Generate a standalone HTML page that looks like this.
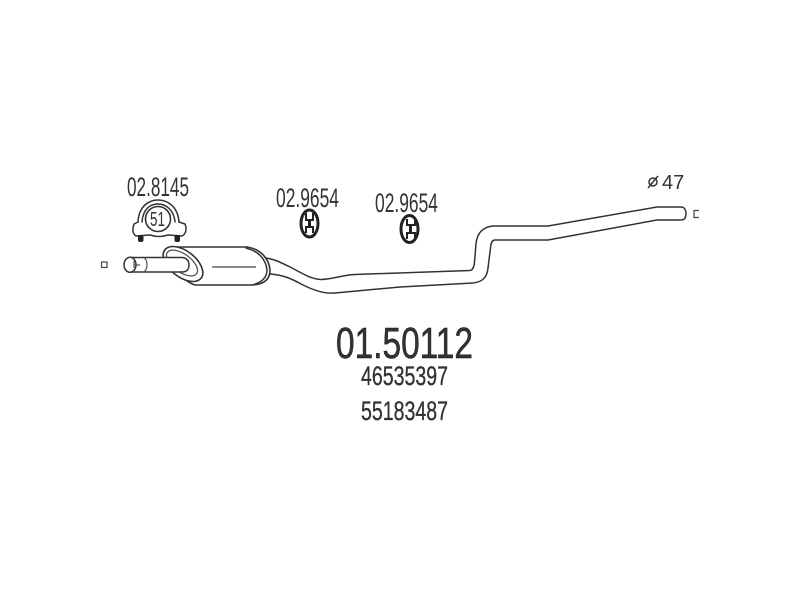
<!DOCTYPE html>
<html><head><meta charset="utf-8"><style>
html,body{margin:0;padding:0;background:#fff;width:800px;height:600px;overflow:hidden}
svg{display:block}
text{font-family:"Liberation Sans",sans-serif;fill:#333}
.l{fill:none;stroke:#333;stroke-width:1.500;stroke-linecap:round;stroke-linejoin:round}
</style></head><body>
<svg width="800" height="600" viewBox="0 0 800 600" xmlns="http://www.w3.org/2000/svg">
<rect width="800" height="600" fill="#fff"/>
<text x="127" y="196" font-size="27" textLength="62" lengthAdjust="spacingAndGlyphs" fill="#444">02.8145</text>
<text x="276" y="207" font-size="27" textLength="63" lengthAdjust="spacingAndGlyphs" fill="#444">02.9654</text>
<text x="375" y="212" font-size="27" textLength="63" lengthAdjust="spacingAndGlyphs" fill="#444">02.9654</text>
<text x="662" y="189" font-size="20" fill="#333">47</text>
<g fill="none" stroke="#333" stroke-width="1.500"><circle cx="653" cy="182" r="4"/><path d="M648 188L658 176"/></g>
<text x="336" y="358" font-size="44" textLength="137" lengthAdjust="spacingAndGlyphs" fill="#111" stroke="#111" stroke-width="0.500">01.50112</text>
<text x="361" y="385" font-size="27" textLength="87" lengthAdjust="spacingAndGlyphs" fill="#222" stroke="#222" stroke-width="0.300">46535397</text>
<text x="361" y="420" font-size="27" textLength="87" lengthAdjust="spacingAndGlyphs" fill="#222" stroke="#222" stroke-width="0.300">55183487</text>

<!-- small squares -->
<rect x="101.500" y="262" width="5.500" height="5.500" fill="none" stroke="#444" stroke-width="1.200"/>
<path d="M699 210.500H694V217.500H699" fill="none" stroke="#444" stroke-width="1.200"/>

<!-- clamp -->
<path class="l" d="M138 222C139 205 150 200 158 200C168 200 178 207 179 222"/>
<path class="l" d="M142 222C143 209 150 204 158 204C166 204 174 210 175 222"/>
<path class="l" d="M138 222L134 224C132 230 133 234 136 236L150 235C156 237 162 237 168 235L182 236C186 234 187 229 185 224L179 222"/>
<circle cx="158" cy="219" r="12.500" fill="#fff" stroke="#333" stroke-width="1.600"/>
<text x="150" y="226" font-size="20" textLength="15" lengthAdjust="spacingAndGlyphs" fill="#333">51</text>
<rect x="138" y="235" width="5.500" height="7" rx="2" fill="#222"/>
<rect x="174.500" y="235" width="5.500" height="7" rx="2" fill="#222"/>

<!-- hangers -->
<g>
<ellipse cx="309.500" cy="223.500" rx="8.500" ry="13.500" fill="#fff" stroke="#222" stroke-width="3"/>
<path d="M306 213V220H313V213M306 233V227H313V233" fill="none" stroke="#222" stroke-width="2"/>
<path d="M309.500 219V228" stroke="#222" stroke-width="3"/>
</g>
<g>
<ellipse cx="409.500" cy="229" rx="8.500" ry="13.500" fill="#fff" stroke="#222" stroke-width="3"/>
<path d="M407 219V225H415V219M407 239V233H415V239" fill="none" stroke="#222" stroke-width="2"/>
<path d="M410.500 225V233" stroke="#222" stroke-width="3"/>
</g>

<!-- pipe -->
<path class="l" d="M263 258C272 258 280 262 290 267C302 273 310 279 321 279.500C332 279.500 342 275 355 274.500L470 270.500C473 270 474 267 474.500 262L476 244C477 233 483 227 493 226H548L657 207H681C685 207 686 211 686 213.500C686 217 685 220 681 220H657L548 240H495C492 240 491 243 490.500 248L488 268C487 278 482 282 473 283L400 287L335 293C325 294 315 291 303 285C292 279 284 275 270 274"/>

<!-- muffler -->
<path d="M180 247H247C260 249 269 258 270 270C270 280 263 285 250 285H196C190 285 170 270 170 258C170 250 174 247 180 247Z" fill="#fff" stroke="#333" stroke-width="1.600"/>
<path class="l" d="M246 248C258 251 266 259 267 270C267 277 262 282 255 284"/>
<path d="M212 267H256" fill="none" stroke="#666" stroke-width="1.600"/>
<ellipse cx="183" cy="264" rx="23" ry="13" transform="rotate(38 183 264)" fill="#fff" stroke="#333" stroke-width="1.600"/>
<ellipse cx="182" cy="263" rx="18" ry="9" transform="rotate(36 182 263)" fill="#fff" stroke="#555" stroke-width="1.300"/>
<path d="M129 257.500H182C187 258 189 261 189 265C189 269 187 272 182 272H129" fill="#fff" stroke="#333" stroke-width="1.500"/>
<ellipse cx="130" cy="264.800" rx="6" ry="7.500" fill="#fff" stroke="#333" stroke-width="1.500"/>
<path d="M144 257.500C148 261 148 268 144 272" fill="none" stroke="#555" stroke-width="1.200"/>
<path d="M134 261V268M134 265H140" fill="none" stroke="#555" stroke-width="1.200"/>
</svg>
</body></html>
